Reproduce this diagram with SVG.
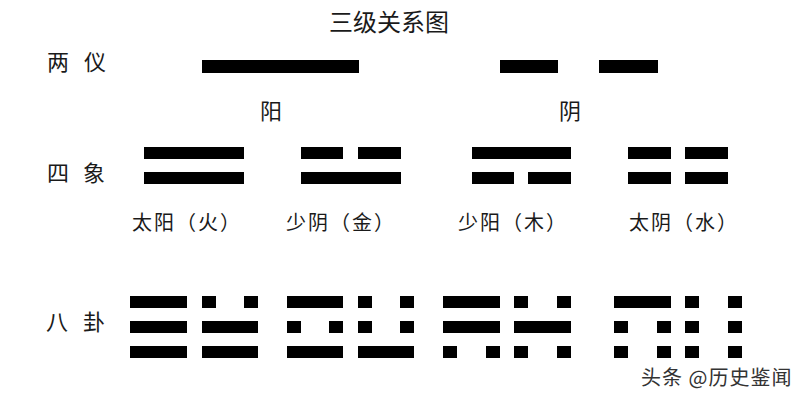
<svg xmlns="http://www.w3.org/2000/svg" width="800" height="400" viewBox="0 0 800 400">
<style>
  text { font-family: "Noto Sans CJK SC", "Noto Sans", sans-serif; fill: #1a1a1a; }
  .title { font-size: 24px; }
  .row { font-size: 22px; }
  .lab { font-size: 20px; letter-spacing: 2px; }
  .bar { fill: #000; }
  .wm { font-size: 20px; letter-spacing: 1px; fill: #333; stroke: #fff; stroke-width: 2px; paint-order: stroke; }
</style>
<rect width="800" height="400" fill="#fff"/>
<g id="title"><text class="title" x="329" y="31">三级关系图</text></g>

<g id="row-labels">
  <text class="row" x="47" y="70">两</text><text class="row" x="84" y="70">仪</text>
  <text class="row" x="47" y="181">四</text><text class="row" x="83" y="181">象</text>
  <text class="row" x="46" y="330">八</text><text class="row" x="83" y="330">卦</text>
</g>

<g id="yang">
  <rect class="bar" x="202" y="60" width="157" height="13"/>
  <text class="row" x="271" y="119" text-anchor="middle">阳</text>
</g>
<g id="yin">
  <rect class="bar" x="500" y="60" width="58" height="13"/>
  <rect class="bar" x="599" y="60" width="59" height="13"/>
  <text class="row" x="570" y="119" text-anchor="middle">阴</text>
</g>

<g id="taiyang">
  <rect class="bar" x="144" y="147" width="100" height="12"/>
  <rect class="bar" x="144" y="172" width="100" height="12"/>
  <text class="lab" x="132" y="230">太阳（火）</text>
</g>
<g id="shaoyin">
  <rect class="bar" x="301" y="147" width="42" height="12"/>
  <rect class="bar" x="358" y="147" width="43" height="12"/>
  <rect class="bar" x="301" y="172" width="100" height="12"/>
  <text class="lab" x="286" y="230">少阴（金）</text>
</g>
<g id="shaoyang">
  <rect class="bar" x="472" y="147" width="99" height="12"/>
  <rect class="bar" x="472" y="172" width="42" height="12"/>
  <rect class="bar" x="528" y="172" width="43" height="12"/>
  <text class="lab" x="458" y="230">少阳（木）</text>
</g>
<g id="taiyin">
  <rect class="bar" x="628" y="147" width="43" height="12"/>
  <rect class="bar" x="685" y="147" width="43" height="12"/>
  <rect class="bar" x="628" y="172" width="43" height="12"/>
  <rect class="bar" x="685" y="172" width="43" height="12"/>
  <text class="lab" x="629" y="230">太阴（水）</text>
</g>

<g id="qian">
  <rect class="bar" x="130" y="296" width="57" height="12"/>
  <rect class="bar" x="130" y="321" width="57" height="12"/>
  <rect class="bar" x="130" y="346" width="57" height="12"/>
</g>
<g id="dui">
  <rect class="bar" x="202" y="296" width="14" height="12"/>
  <rect class="bar" x="244" y="296" width="14" height="12"/>
  <rect class="bar" x="202" y="321" width="56" height="12"/>
  <rect class="bar" x="202" y="346" width="56" height="12"/>
</g>
<g id="li">
  <rect class="bar" x="287" y="296" width="56" height="12"/>
  <rect class="bar" x="287" y="321" width="14" height="12"/>
  <rect class="bar" x="329" y="321" width="14" height="12"/>
  <rect class="bar" x="287" y="346" width="56" height="12"/>
</g>
<g id="zhen">
  <rect class="bar" x="358" y="296" width="14" height="12"/>
  <rect class="bar" x="400" y="296" width="14" height="12"/>
  <rect class="bar" x="358" y="321" width="14" height="12"/>
  <rect class="bar" x="400" y="321" width="14" height="12"/>
  <rect class="bar" x="358" y="346" width="56" height="12"/>
</g>
<g id="xun">
  <rect class="bar" x="443" y="296" width="57" height="12"/>
  <rect class="bar" x="443" y="321" width="57" height="12"/>
  <rect class="bar" x="443" y="346" width="14" height="12"/>
  <rect class="bar" x="486" y="346" width="14" height="12"/>
</g>
<g id="kan">
  <rect class="bar" x="514" y="296" width="14" height="12"/>
  <rect class="bar" x="557" y="296" width="14" height="12"/>
  <rect class="bar" x="514" y="321" width="57" height="12"/>
  <rect class="bar" x="514" y="346" width="14" height="12"/>
  <rect class="bar" x="557" y="346" width="14" height="12"/>
</g>
<g id="gen">
  <rect class="bar" x="614" y="296" width="57" height="12"/>
  <rect class="bar" x="614" y="321" width="14" height="12"/>
  <rect class="bar" x="657" y="321" width="14" height="12"/>
  <rect class="bar" x="614" y="346" width="14" height="12"/>
  <rect class="bar" x="657" y="346" width="14" height="12"/>
</g>
<g id="kun">
  <rect class="bar" x="685" y="296" width="14" height="12"/>
  <rect class="bar" x="728" y="296" width="14" height="12"/>
  <rect class="bar" x="685" y="321" width="14" height="12"/>
  <rect class="bar" x="728" y="321" width="14" height="12"/>
  <rect class="bar" x="685" y="346" width="14" height="12"/>
  <rect class="bar" x="728" y="346" width="14" height="12"/>
</g>

<g id="connectors"></g>

<g id="watermark"><text class="wm" x="641" y="385">头条 @历史鉴闻</text></g>
</svg>
